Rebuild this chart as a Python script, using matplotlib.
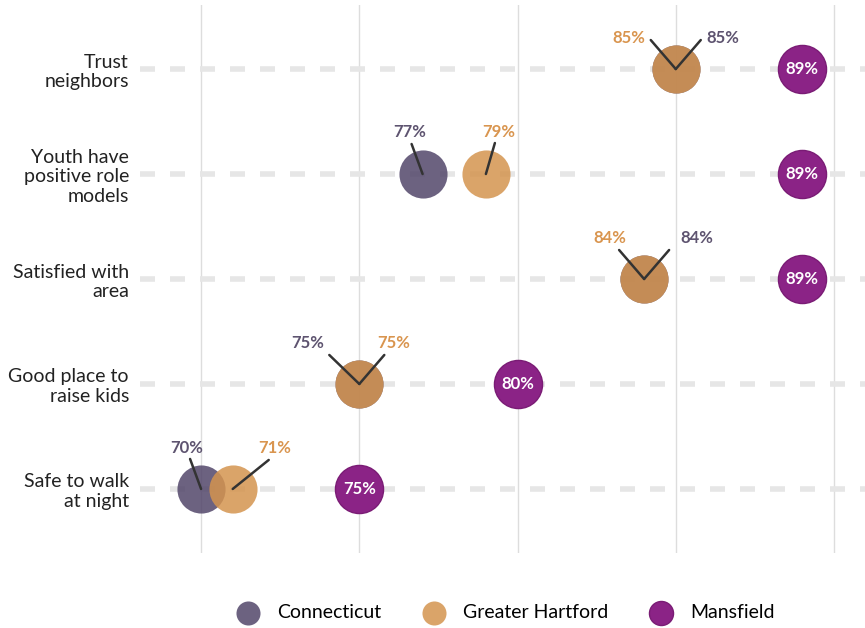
import matplotlib.pyplot as plt

plt.rcParams['font.family'] = ['Lato', 'DejaVu Sans']

categories = ['Safe to walk\nat night', 'Good place to\nraise kids', 'Satisfied with\narea',
              'Youth have\npositive role\nmodels', 'Trust\nneighbors']
connecticut = [70, 75, 84, 77, 85]
greater_hartford = [71, 75, 84, 79, 85]
mansfield = [75, 80, 89, 89, 89]

ct_color = '#52466A'
gh_color = '#D4944F'
mf_color = '#8B2386'
ct_text = '#5E5470'
gh_text = '#D9954F'

# label placement per row: (text dx, dy, line dx, dy) in pixels, for CT and GH
ct_off = [(-14, 41, -11, 30), (-52, 41, -30, 29), (53, 41, 25, 29), (-13, 42, -11, 30), (47, 31, 25, 29)]
gh_off = [(42, 41, 36, 29), (34, 41, 25, 29), (-34, 41, -25, 29), (13, 42, 9, 31), (-47, 31, -25, 29)]

fig = plt.figure(figsize=(8.65, 6.28), dpi=100)
ax = fig.add_axes([140 / 865, 1 - 553 / 628, 725 / 865, 548 / 628])

ys = list(range(len(categories)))
px = 0.72  # points per pixel at dpi 100

for y in ys:
    ax.axhline(y, color='#e6e6e6', lw=4, ls=(0, (2.7, 2.7)), zorder=1)
for x in [70, 75, 80, 85, 90]:
    ax.axvline(x, color='#dddddd', lw=1, zorder=0)

ax.scatter(connecticut, ys, s=1200, color=ct_color, alpha=0.85, lw=0, zorder=3, label='Connecticut')
ax.scatter(greater_hartford, ys, s=1200, color=gh_color, alpha=0.85, lw=0, zorder=4, label='Greater Hartford')
ax.scatter(mansfield, ys, s=1200, color=mf_color, edgecolor='#7A1C75', lw=1, zorder=4, label='Mansfield')

for y, v in zip(ys, mansfield):
    ax.text(v, y, f'{v}%', ha='center', va='center', color='white', fontsize=12, fontweight='bold', zorder=6)

for vals, offs, col in [(connecticut, ct_off, ct_text), (greater_hartford, gh_off, gh_text)]:
    for y, v, (tdx, tdy, ldx, ldy) in zip(ys, vals, offs):
        ax.annotate('', xy=(v, y), xytext=(ldx * px, ldy * px), textcoords='offset points',
                    arrowprops=dict(arrowstyle='-', color='#333333', lw=1.8, shrinkA=0, shrinkB=0), zorder=5)
        ax.annotate(f'{v}%', xy=(v, y), xytext=(tdx * px, tdy * px), textcoords='offset points',
                    ha='center', va='center', color=col, fontsize=12, fontweight='bold', zorder=6)

ax.set_xlim(68.07, 90.98)
ax.set_ylim(-0.61, 4.61)
ax.set_yticks(ys)
ax.set_yticklabels(categories, fontsize=14, color='#222222', linespacing=1.2)
ax.set_xticks([])
ax.tick_params(axis='y', length=0, pad=8)
for s in ax.spines.values():
    s.set_visible(False)

fig.legend(*ax.get_legend_handles_labels(), loc='center', bbox_to_anchor=(0.58, 1 - 613 / 628), ncol=3,
           frameon=False, fontsize=14, markerscale=0.5, handletextpad=0.5, columnspacing=1.7)

fig.savefig('out.png', dpi=100)
